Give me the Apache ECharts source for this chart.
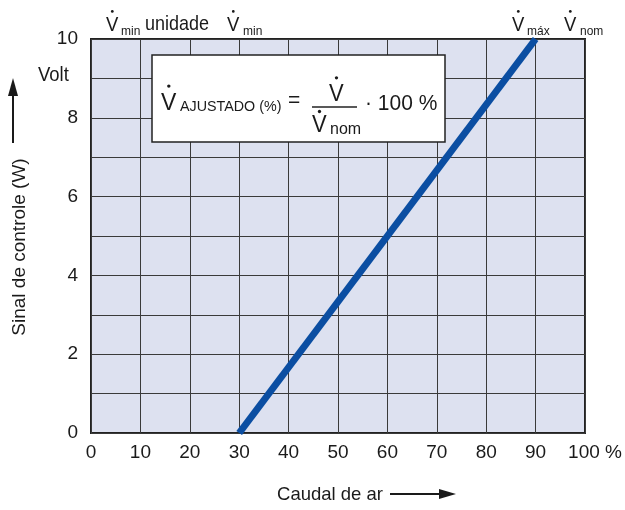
<!DOCTYPE html>
<html><head><meta charset="utf-8">
<script src="https://cdn.jsdelivr.net/npm/echarts@6/dist/echarts.min.js"></script>
<style>html,body{margin:0;padding:0;background:#fff}#c{width:625px;height:510px}</style>
</head><body><div id="c"></div>
<script>
// Data
const xTicks = [0,10,20,30,40,50,60,70,80,90,100];
const yTicks = [0,2,4,6,8,10];
const flowPct = [30, 90];      // Caudal de ar (%)
const signalVolt = [0, 10];    // Sinal de controle (V)
const xName = 'Caudal de ar';
const yName = 'Sinal de controle (W)';
const yUnit = 'Volt';

const FF = '"Liberation Sans", Arial, Helvetica, sans-serif';
const C = '#1a1a1a';
const SY = 1.08;
const chart = echarts.init(document.getElementById('c'), null, {renderer:'canvas'});

function t(x, y, text, size, opt) {
  return {type:'text', x:x, y:y, scaleY:SY, style:Object.assign({text:text, fontSize:size, fontFamily:FF, fill:C, textVerticalAlign:'middle', textAlign:'left'}, (opt||{}))};
}
function dotV(x, y, size, dy) { // V with dot above
  return [t(x, y, 'V', size), {type:'circle', shape:{cx:x + size*0.34, cy:y - (dy || size*0.68*SY), r: size*0.075}, style:{fill:C}}];
}

const graphics = [];
// top annotations
graphics.push(...dotV(106, 25, 18.5), t(121, 31, 'min', 12), t(145, 25, 'unidade', 18));
graphics.push(...dotV(227, 25, 18.5), t(243, 31, 'min', 12));
graphics.push(...dotV(512, 25, 18.5), t(527, 31, 'máx', 12));
graphics.push(...dotV(564, 25, 18.5), t(580, 31, 'nom', 12));
// formula box
graphics.push({type:'rect', shape:{x:152, y:55, width:293, height:87}, style:{fill:'#fff', stroke:'#222', lineWidth:1.5}, z:10});
[
  ...dotV(161, 103, 23), t(180, 107, 'AJUSTADO (%)', 14.3), t(288, 101, '=', 21),
  ...dotV(329, 94, 22), {type:'line', shape:{x1:312,y1:107,x2:357,y2:107}, style:{stroke:'#222', lineWidth:1.5}},
  ...dotV(312, 125, 22, 13.5), t(330, 129, 'nom', 16), t(365, 104, '· 100 %', 21)
].forEach(g => { g.z = 11; graphics.push(g); });
// y axis name & arrow
graphics.push({type:'text', x:20, y:247, rotation:Math.PI/2, style:{text:yName, fontSize:19, fontFamily:FF, fill:C, textAlign:'center', textVerticalAlign:'middle'}});
graphics.push({type:'line', shape:{x1:13,y1:143,x2:13,y2:92}, style:{stroke:C, lineWidth:2}});
graphics.push({type:'polygon', shape:{points:[[13,78],[8,96],[18,96]]}, style:{fill:C}});
graphics.push(t(38, 75, yUnit, 18.5));
// x axis name & arrow
graphics.push({type:'text', x:330, y:495, style:{text:xName, fontSize:18.5, fontFamily:FF, fill:C, textAlign:'center', textVerticalAlign:'middle'}});
graphics.push({type:'line', shape:{x1:390,y1:494,x2:442,y2:494}, style:{stroke:C, lineWidth:2}});
graphics.push({type:'polygon', shape:{points:[[456,494],[439,489],[439,499]]}, style:{fill:C}});

chart.setOption({
  animation:false,
  grid:{left:91, right:40, top:39, bottom:77, show:true, backgroundColor:'#dde1f0', borderColor:'#222', borderWidth:2},
  xAxis:{type:'value', min:xTicks[0], max:xTicks[xTicks.length-1], interval:10,
    axisLine:{show:false}, axisTick:{show:false},
    splitLine:{show:true, lineStyle:{color:'#3a3a3a', width:1}},
    axisLabel:{margin:10, fontSize:19, fontFamily:FF, color:C,
      formatter: v => xTicks.includes(v) ? (v === 100 ? '{h|100}{p| %}' : String(v)) : '',
      rich:{h:{fontSize:19, fontFamily:FF, color:C, padding:[0,0,0,20]}, p:{fontSize:19, fontFamily:FF, color:C}}}},
  yAxis:{type:'value', min:0, max:10, interval:1,
    axisLine:{show:false}, axisTick:{show:false},
    splitLine:{show:true, lineStyle:{color:'#3a3a3a', width:1}},
    axisLabel:{margin:13, fontSize:19, fontFamily:FF, color:C,
      formatter: v => yTicks.includes(v) ? String(v) : ''}},
  series:[{type:'line', data: flowPct.map((x,i)=>[x, signalVolt[i]]), symbol:'none',
    lineStyle:{color:'#0b4ea2', width:7, cap:'butt'}, clip:true}],
  graphic: graphics
});
</script></body></html>
